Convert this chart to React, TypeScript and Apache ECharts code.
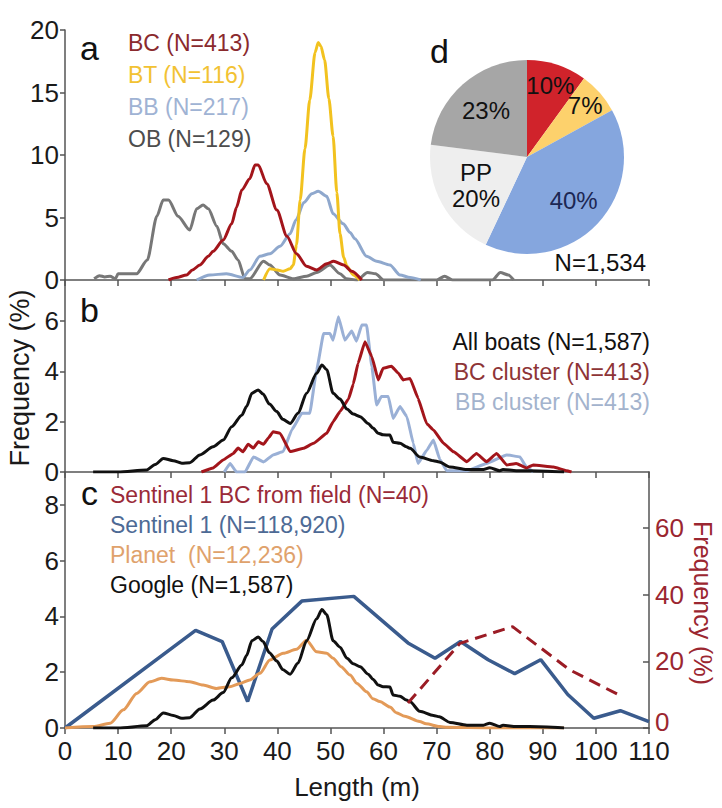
import React, { useEffect, useRef } from "react";
import * as echarts from "echarts";

// ---------- Panel a ----------
const obLen = [5.5, 6.5, 7.5, 8.5, 9.5, 10, 13.5, 15.5, 17.3, 18.5, 19.5, 21.3, 23.5, 24.8, 26, 27, 28.6, 29.8, 31.4, 32.6, 33.9, 34.8, 37.4, 38.6, 40.5, 43, 45.5, 47.4, 49.9, 51.8, 53, 55, 57, 58.5, 60, 70, 71.5, 73, 80.5, 82, 83.5, 84.5];
const obFreq = [0.1, 0.35, 0.25, 0.3, 0.1, 0.5, 0.5, 1.6, 5.1, 6.4, 6.4, 5.1, 4.0, 5.7, 6.0, 5.7, 4.3, 2.9, 2.3, 1.6, 0.1, 0.1, 1.5, 1.2, 0.4, 0.1, 0.3, 0.6, 1.2, 0.5, 0.1, 0, 0.6, 0.5, 0, 0, 0.3, 0, 0, 0.6, 0.4, 0];

const bcLen = [19.5, 21, 22.9, 24, 25.4, 27, 27.9, 29.8, 31.4, 32.3, 33.3, 34.8, 35.8, 36.4, 38, 39.9, 41.8, 43.6, 45.5, 47.4, 49.3, 50.6, 52.5, 54, 55.9];
const bcFreq = [0, 0.2, 0.4, 0.8, 1.2, 1.9, 2.3, 3.2, 4.5, 5.8, 7.2, 8.1, 9.2, 9.2, 7.7, 5.6, 3.5, 2.1, 1.1, 0.8, 1.3, 1.5, 1.2, 0.7, 0];

const btLen = [37.4, 38.6, 40, 41.1, 42.4, 43, 43.6, 44.3, 45.2, 46.1, 47.1, 47.7, 48.2, 48.9, 49.7, 50.5, 51.2, 51.8, 52.5, 53.1, 54.3, 55.5];
const btFreq = [0, 0.9, 0.8, 0.7, 0.9, 1.2, 2.8, 6.4, 10.5, 14.4, 18.2, 19.0, 18.7, 17.6, 14.5, 11.5, 7.0, 3.7, 1.8, 1.1, 0.4, 0];

const bbLen = [24.8, 27.3, 30.4, 33.5, 34.8, 36.7, 38.6, 40.5, 42.4, 43.5, 45, 46.5, 47.7, 49.3, 50.5, 52.4, 53.7, 54.6, 56.8, 58.7, 61.2, 63.1, 65, 67];
const bbFreq = [0, 0.4, 0.5, 0.2, 0.8, 1.9, 2.1, 2.7, 3.7, 4.8, 6.2, 6.9, 7.1, 6.7, 5.3, 4.5, 3.8, 3.3, 1.9, 1.5, 1.2, 0.4, 0.2, 0];

// ---------- Panel b ----------
const allLen = [5.3, 10, 15.4, 17, 18.5, 20.4, 22, 23.5, 25.4, 27.9, 29.8, 31.4, 33.3, 34.2, 35.2, 36.4, 37.3, 38.5, 39.9, 41, 42.4, 43.9, 45.5, 47.4, 48.4, 49.3, 50.5, 51.8, 53.1, 54.3, 55.6, 57.1, 58, 59, 59.9, 61.2, 61.8, 63.1, 64.3, 65, 66.8, 69.4, 70.5, 72.5, 75.7, 78.8, 80, 81.9, 82.5, 85, 87.5, 94];
const allFreq = [0, 0, 0.08, 0.3, 0.54, 0.45, 0.35, 0.37, 0.68, 1.0, 1.27, 1.8, 2.26, 2.6, 3.13, 3.26, 3.1, 2.7, 2.4, 2.1, 1.93, 2.33, 3.13, 3.92, 4.25, 4.06, 3.13, 2.9, 2.5, 2.3, 2.2, 1.93, 1.75, 1.54, 1.48, 1.47, 1.18, 1.14, 1.0, 0.94, 0.6, 0.45, 0.4, 0.2, 0.1, 0.1, 0.17, 0.05, 0.1, 0.05, 0.05, 0];

const bcClLen = [25.7, 27.9, 29.8, 31.7, 32.6, 33.5, 34.5, 35.5, 36.4, 37.4, 38.3, 39.2, 40.5, 42.4, 44.9, 46.8, 49.3, 50.5, 51.8, 53.4, 54.3, 55.2, 56.5, 57.8, 59, 59.9, 61.5, 62.8, 63.7, 65, 66.5, 68.1, 69.4, 71.3, 73.2, 75.7, 77.5, 79.4, 81.3, 83.2, 85, 86.9, 88.2, 92, 94.5, 95.4];
const bcClFreq = [0, 0.16, 0.48, 0.74, 0.95, 0.8, 1.1, 0.95, 1.2, 1.1, 1.35, 1.6, 1.54, 0.81, 0.94, 1.14, 1.54, 2.0, 2.4, 2.9, 3.5, 4.32, 5.18, 4.58, 3.66, 4.12, 4.2, 3.92, 3.66, 3.72, 2.93, 1.93, 1.67, 1.14, 0.8, 0.41, 0.74, 0.41, 0.74, 0.28, 0.34, 0.16, 0.28, 0.2, 0.05, 0];

const bbClLen = [30, 31.1, 32.3, 33.9, 35.5, 37.4, 39.2, 41.1, 42.7, 44.6, 46.1, 47.4, 48.7, 49.9, 50.5, 51.5, 52.7, 54, 54.9, 55.9, 56.8, 57.8, 58.7, 59.6, 60.9, 61.8, 63.1, 64.4, 65.6, 66.5, 68.1, 69.4, 70.6, 71.9, 75.7, 79.4, 83.2, 85.7, 86.9, 88.2];
const bbClFreq = [0, 0.34, 0, 0, 0.6, 0.4, 0.68, 0.81, 1.67, 2.33, 2.33, 4.05, 5.5, 5.5, 5.24, 6.17, 5.24, 5.6, 5.2, 5.84, 5.84, 4.18, 2.66, 3.0, 3.0, 2.13, 2.6, 2.2, 1.14, 0.34, 0.85, 1.27, 0.5, 0.05, 0.05, 0.34, 0.68, 0.6, 0.2, 0];

// ---------- Panel c ----------
const s1Len = [0, 24.6, 29.6, 34.4, 39, 44.6, 54.4, 64.6, 69.7, 74.5, 79.7, 84.7, 89.6, 94.7, 99.6, 104.6, 110];
const s1Freq = [0, 3.5, 3.1, 0.95, 3.55, 4.55, 4.72, 3.05, 2.5, 3.1, 2.45, 1.95, 2.45, 1.2, 0.35, 0.62, 0.23];

const fieldLen = [64.6, 74.4, 84.3, 95, 104.5];
const fieldFreq = [7.5, 25.4, 30.4, 17.5, 9.8];

const planetLen = [0, 5.3, 8.5, 11, 13.5, 16, 18.2, 20.4, 23.5, 26, 28.5, 31, 33, 34.8, 36.7, 38.6, 41.1, 43.6, 45.5, 47.4, 49.3, 50.5, 52, 53.7, 55, 56.8, 58, 59.3, 61.2, 62.4, 64, 66.8, 68, 70.6, 72, 80, 94];
const planetFreq = [0, 0.05, 0.17, 0.65, 1.24, 1.66, 1.78, 1.72, 1.66, 1.54, 1.42, 1.48, 1.6, 1.72, 1.96, 2.44, 2.68, 2.82, 3.15, 2.73, 2.68, 2.5, 2.2, 1.9, 1.6, 1.3, 1.05, 0.95, 0.75, 0.55, 0.42, 0.23, 0.15, 0.05, 0.03, 0, 0];

// ---------- Panel d ----------
const pieNames = ["BC", "BT", "BB", "PP", "OB"];
const pieShares = [10, 7, 40, 20, 23];

// ---------- ticks ----------
const xTicks = [0, 10, 20, 30, 40, 50, 60, 70, 80, 90, 100, 110];

// styles (not data)
const pieColors = ["#d0232b", "#fdd16c", "#85a6de", "#eeeeee", "#a6a6a6"];
const pieLabelColors = ["#111111", "#111111", "#1c2753", "#111111", "#111111"];
const pieLabelRadius = [0.78, 0.8, 0.66, 0.6, 0.64];
const PIE_C = [527, 157];
const PIE_R = 97;

const FONT = "'Liberation Sans', Arial, Helvetica, sans-serif";
const NARROW = "'Liberation Sans Narrow', 'Arial Narrow', 'Liberation Sans', Arial, sans-serif";
const AXIS = "#555555";

const pairs = (xs: number[], ys: number[]) => xs.map((x, i) => [x, ys[i]]);

function lineSeries(name: string, xs: number[], ys: number[], color: string, idx: number, yIdx: number, extra: any = {}) {
  const { lineStyle, ...rest } = extra;
  return {
    type: "line",
    name,
    xAxisIndex: idx,
    yAxisIndex: yIdx,
    data: pairs(xs, ys),
    showSymbol: false,
    symbol: "none",
    smooth: 0.25,
    smoothMonotone: "x",
    silent: true,
    ...rest,
    lineStyle: { color, width: 3, ...(lineStyle || {}) },
  };
}

function txt(text: string, x: number, y: number, color: string, size: number, align = "left", extra: any = {}) {
  return {
    type: "text",
    x,
    y,
    silent: true,
    z: 100,
    style: { text, fill: color, font: `${size}px ${FONT}`, textAlign: align, textVerticalAlign: "middle", lineHeight: size + 2 },
    ...extra,
  };
}

function pieLabels() {
  const total = pieShares.reduce((a, b) => a + b, 0);
  let cum = 0;
  return pieShares.map((v, i) => {
    const mid = (cum + v / 2) / total;
    cum += v;
    const th = mid * Math.PI * 2;
    const d = PIE_R * pieLabelRadius[i];
    const x = PIE_C[0] + d * Math.sin(th);
    const y = PIE_C[1] - d * Math.cos(th);
    const label = pieNames[i] === "PP" ? `PP\n${v}%` : `${v}%`;
    return txt(label, x, y, pieLabelColors[i], 24, "center");
  });
}

export default function App() {
  const ref = useRef<HTMLDivElement>(null);
  useEffect(() => {
    if (!ref.current) return;
    const chart = echarts.init(ref.current, undefined, { renderer: "svg" });
    const xMin = xTicks[0];
    const xMax = xTicks[xTicks.length - 1];
    const xBase = (gi: number, showLabels: boolean) => ({
      type: "value",
      gridIndex: gi,
      min: xMin,
      max: xMax,
      interval: 10,
      axisLine: { show: true, lineStyle: { color: AXIS, width: 1.5 } },
      axisTick: { show: true, length: 6, lineStyle: { color: AXIS, width: 1.5 } },
      splitLine: { show: false },
      axisLabel: showLabels
        ? { show: true, fontSize: 26, fontFamily: NARROW, color: "#1a1a1a", margin: 10 }
        : { show: false },
    });
    const yBase = (gi: number, min: number, max: number, interval: number) => ({
      type: "value",
      gridIndex: gi,
      min,
      max,
      interval,
      axisLine: { show: true, lineStyle: { color: AXIS, width: 1.5 } },
      axisTick: { show: true, length: 5, lineStyle: { color: AXIS, width: 1.5 } },
      splitLine: { show: false },
      axisLabel: { show: true, fontSize: 26, fontFamily: NARROW, color: "#1a1a1a", margin: 6, showMaxLabel: max % interval === 0 },
    });

    const option: any = {
      animation: false,
      backgroundColor: "#ffffff",
      grid: [
        { left: 65, top: 30, width: 584, height: 250 },
        { left: 65, top: 280, width: 584, height: 192 },
        { left: 65, top: 472, width: 584, height: 256 },
      ],
      xAxis: [
        xBase(0, false),
        xBase(1, false),
        {
          ...xBase(2, true),
          name: "Length (m)",
          nameLocation: "middle",
          nameGap: 46,
          nameTextStyle: { fontSize: 26, fontFamily: FONT, color: "#1a1a1a" },
        },
      ],
      yAxis: [
        yBase(0, 0, 20, 5),
        yBase(1, 0, 7.63, 2),
        yBase(2, 0, 9.18, 2),
        {
          ...yBase(2, 0, 76.8, 20),
          position: "right",
          axisTick: { show: true, inside: true, length: 6, lineStyle: { color: AXIS, width: 1.5 } },
          axisLabel: {
            show: true,
            fontSize: 26,
            fontFamily: NARROW,
            color: "#9b2630",
            margin: 6,
            showMaxLabel: false,
            formatter: (v: number) => (v === 0 ? "{z|0}" : String(v)),
            rich: { z: { fontSize: 26, fontFamily: NARROW, color: "#9b2630", padding: [0, 0, 12, 0] } },
          },
        },
      ],
      series: [
        lineSeries("OB", obLen, obFreq, "#777777", 0, 0),
        lineSeries("BB", bbLen, bbFreq, "#8fa8cd", 0, 0),
        lineSeries("BT", btLen, btFreq, "#f2c21f", 0, 0),
        lineSeries("BC", bcLen, bcFreq, "#a3151b", 0, 0),
        lineSeries("BB cluster", bbClLen, bbClFreq, "#9ab0d6", 1, 1, { smooth: 0.1 }),
        lineSeries("BC cluster", bcClLen, bcClFreq, "#a3151b", 1, 1, { smooth: 0.1 }),
        lineSeries("All boats", allLen, allFreq, "#111111", 1, 1),
        lineSeries("Sentinel 1", s1Len, s1Freq, "#3a5b8d", 2, 2, { smooth: false, lineStyle: { width: 3.5 } }),
        lineSeries("Planet", planetLen, planetFreq, "#e39a58", 2, 2),
        lineSeries("Google", allLen, allFreq, "#111111", 2, 2),
        lineSeries("Sentinel 1 BC from field", fieldLen, fieldFreq, "#9b1c25", 2, 3, {
          smooth: false,
          lineStyle: { type: [12, 7], width: 3 },
        }),
        {
          type: "pie",
          center: PIE_C,
          radius: PIE_R,
          startAngle: 90,
          silent: true,
          label: { show: false },
          labelLine: { show: false },
          data: pieNames.map((n, i) => ({ name: n, value: pieShares[i], itemStyle: { color: pieColors[i] } })),
          z: 5,
        },
      ],
      graphic: [
        txt("a", 80, 48, "#111", 34),
        txt("b", 80, 310, "#111", 34),
        txt("c", 81, 493, "#111", 34),
        txt("d", 430, 51, "#111", 34),
        txt("BC (N=413)", 128, 43, "#8a2a2d", 23),
        txt("BT (N=116)", 128, 75, "#f2c233", 23),
        txt("BB (N=217)", 128, 107, "#9fb3d4", 23),
        txt("OB (N=129)", 128, 139, "#4d4d4d", 23),
        ...pieLabels(),
        txt("N=1,534", 646, 262, "#111", 24, "right"),
        txt("All boats (N=1,587)", 650, 342, "#111", 23, "right"),
        txt("BC cluster (N=413)", 650, 372, "#8e3436", 23, "right"),
        txt("BB cluster (N=413)", 650, 402, "#a3b3cd", 23, "right"),
        txt("Sentinel 1 BC from field (N=40)", 110, 495, "#9a2a38", 23),
        txt("Sentinel 1 (N=118,920)", 110, 525, "#4d6a95", 23),
        txt("Planet  (N=12,236)", 110, 555, "#dfa26c", 23),
        txt("Google (N=1,587)", 110, 585, "#111", 23),
        txt("Frequency (%)", 20, 378, "#1a1a1a", 27, "center", { rotation: Math.PI / 2 }),
        txt("Frequency (%)", 703, 603, "#9b2630", 25, "center", { rotation: -Math.PI / 2 }),
      ],
    };
    chart.setOption(option);
    return () => chart.dispose();
  }, []);
  return (
    <div
      ref={ref}
      style={{ position: "fixed", left: 0, top: 0, width: 722, height: 808, background: "#fff" }}
    />
  );
}
